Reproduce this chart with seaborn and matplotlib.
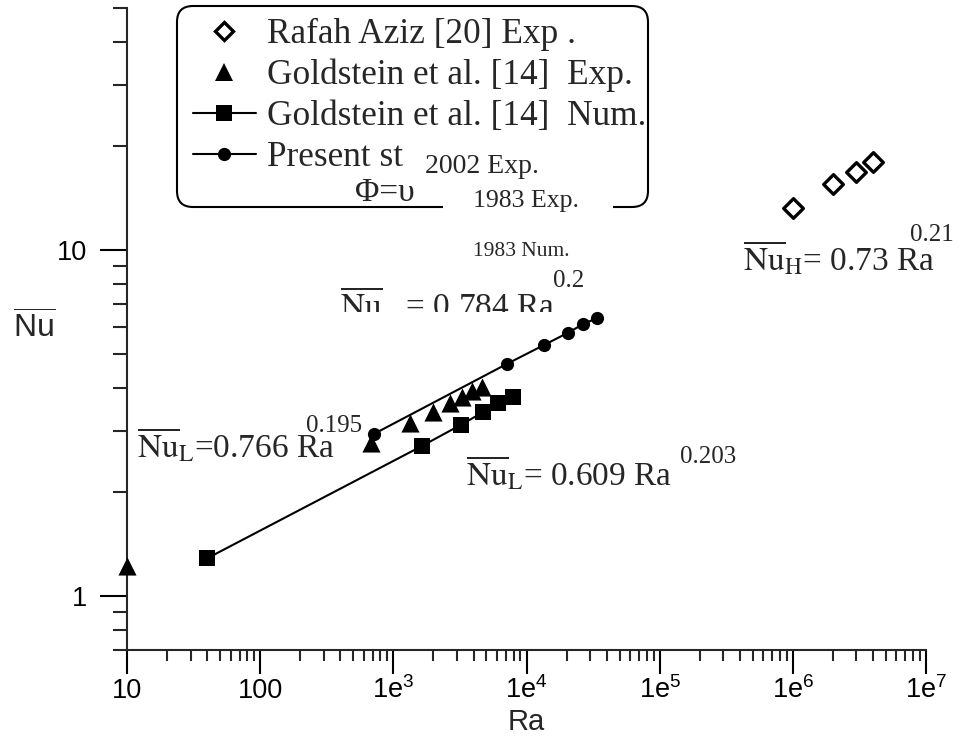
import numpy as np
import matplotlib
matplotlib.use("Agg")
import matplotlib.pyplot as plt
import seaborn as sns
from matplotlib.lines import Line2D
from matplotlib.patches import FancyBboxPatch, Rectangle
from matplotlib.transforms import IdentityTransform, Bbox
from matplotlib.ticker import LogLocator, NullFormatter

# ---------------- data ----------------
aziz_ra = [1.0e6, 2.0e6, 3.0e6, 4.0e6]
aziz_nu = [13.2, 15.5, 16.8, 17.9]

gold_exp_ra = [10, 675, 1330, 1990, 2660, 3260, 3870, 4600]
gold_exp_nu = [1.22, 2.76, 3.16, 3.40, 3.61, 3.77, 3.90, 4.03]

gold_num_ra = [40, 1630, 3200, 4730, 6130, 7940]
gold_num_nu = [1.285, 2.71, 3.12, 3.40, 3.61, 3.77]

present_ra = [715, 7090, 13500, 20600, 26700, 33600]
present_nu = [2.94, 4.68, 5.31, 5.77, 6.11, 6.35]

legend_labels = ["Rafah Aziz [20] Exp .",
                 "Goldstein et al. [14]  Exp.",
                 "Goldstein et al. [14]  Num.",
                 "Present study"]

xtick_values = [10, 100, 1e3, 1e4, 1e5, 1e6, 1e7]
xtick_labels = ["10", "100", "1e$^{3}$", "1e$^{4}$", "1e$^{5}$", "1e$^{6}$", "1e$^{7}$"]
ytick_values = [1, 10]
ytick_labels = ["1", "10"]

# ---------------- style ----------------
sns.set_style("ticks")
plt.rcParams["font.family"] = ["Liberation Sans", "DejaVu Sans"]
plt.rcParams["mathtext.fontset"] = "custom"
plt.rcParams["mathtext.rm"] = "Liberation Sans"
plt.rcParams["mathtext.it"] = "Liberation Sans:italic"
plt.rcParams["mathtext.bf"] = "Liberation Sans:bold"
plt.rcParams["axes.linewidth"] = 1.5

W, H = 964, 740
fig = plt.figure(figsize=(W / 100, H / 100), dpi=100)
ax_left, ax_right, ax_top, ax_bottom = 127, 926, 8.1, 649.6
ax = fig.add_axes([ax_left / W, 1 - ax_bottom / H,
                   (ax_right - ax_left) / W, (ax_bottom - ax_top) / H])
ax.set_xscale("log")
ax.set_yscale("log")


def fx(x):
    return x / W


def fy(y):
    return 1 - y / H


# ---------------- marks ----------------
sns.lineplot(x=gold_num_ra, y=gold_num_nu, ax=ax, color="black", linewidth=1.5,
             marker="s", markersize=11.5, markeredgecolor="black",
             markeredgewidth=0, sort=False, estimator=None, legend=False)
sns.lineplot(x=present_ra, y=present_nu, ax=ax, color="black", linewidth=1.5,
             marker="o", markersize=9.5, markeredgecolor="black",
             markeredgewidth=0, sort=False, estimator=None, legend=False)
sns.scatterplot(x=gold_exp_ra, y=gold_exp_nu, ax=ax, marker="^", s=170,
                color="black", edgecolor="black", linewidth=0, clip_on=False,
                zorder=5, legend=False)
sns.scatterplot(x=aziz_ra, y=aziz_nu, ax=ax, marker="D", s=100,
                color="white", edgecolor="black", linewidth=2.4,
                zorder=5, legend=False)

# ---------------- axes ----------------
ax.set_xlim(10, 1e7)
ax.set_ylim(0.7, 50)
sns.despine(ax=ax)

ax.set_xticks(xtick_values, xtick_labels)
ax.set_yticks(ytick_values, ytick_labels)
ax.xaxis.set_minor_locator(LogLocator(base=10, subs=np.arange(2, 10), numticks=100))
ax.yaxis.set_minor_locator(LogLocator(base=10, subs=np.arange(2, 10), numticks=100))
ax.xaxis.set_minor_formatter(NullFormatter())
ax.yaxis.set_minor_formatter(NullFormatter())

ax.tick_params(axis="x", which="major", length=17.5, width=1.5, direction="out",
               labelsize=19.5, pad=17, colors="black")
ax.tick_params(axis="x", which="minor", length=8, width=1.5, direction="out")
ax.tick_params(axis="y", which="major", length=19.5, width=1.5, direction="out",
               labelsize=19.5, pad=9, colors="black")
ax.tick_params(axis="y", which="minor", length=10, width=1.5, direction="out")
for t in ax.get_xticklabels():
    t.set_verticalalignment("baseline")

ax.set_xlabel("Ra", fontsize=21)
ax.xaxis.set_label_coords((526 - ax_left) / (ax_right - ax_left),
                          (ax_bottom - 722) / (ax_bottom - ax_top))
ax.xaxis.label.set_verticalalignment("center")
ax.set_ylabel(r"$\overline{\mathrm{Nu}}$", fontsize=23, rotation=0)
ax.yaxis.set_label_coords((34 - ax_left) / (ax_right - ax_left),
                          (ax_bottom - 328) / (ax_bottom - ax_top))
ax.yaxis.label.set_verticalalignment("center")
ax.yaxis.label.set_horizontalalignment("center")

# ---------------- legend ----------------
handles = [
    Line2D([], [], linestyle="none", marker="D", markersize=9.5,
           markerfacecolor="white", markeredgecolor="black", markeredgewidth=2.4),
    Line2D([], [], linestyle="none", marker="^", markersize=13,
           markerfacecolor="black", markeredgecolor="black", markeredgewidth=0),
    Line2D([], [], color="black", linewidth=1.5, marker="s", markersize=11,
           markerfacecolor="black", markeredgewidth=0),
    Line2D([], [], color="black", linewidth=1.5, marker="o", markersize=9.5,
           markerfacecolor="black", markeredgewidth=0),
]
leg = ax.legend(handles, legend_labels, loc="upper left",
                bbox_to_anchor=(fx(193), fy(18)), bbox_transform=fig.transFigure,
                frameon=False, borderpad=0, borderaxespad=0,
                handlelength=1.78, handletextpad=0.33, labelspacing=0.22,
                prop={"family": "Liberation Serif", "size": 25.4})
leg.set_zorder(6)

frame = FancyBboxPatch((177, H - 207), 648 - 177, 207 - 6,
                       boxstyle="round,pad=0,rounding_size=16",
                       transform=IdentityTransform(), facecolor="none",
                       edgecolor="black", linewidth=1.5, zorder=2)
fig.add_artist(frame)

fig.text(fx(355), fy(201), "Φ=υ", fontsize=24, family="Liberation Serif",
         ha="left", va="baseline", zorder=3)

# ---------------- overlay labels with white boxes ----------------
for (x0, y0, x1, y1) in [(403, 136, 565, 186), (443, 182, 613, 218)]:
    fig.add_artist(Rectangle((x0, H - y1), x1 - x0, y1 - y0,
                             transform=IdentityTransform(), facecolor="white",
                             edgecolor="none", zorder=8))
overlay = [(425, 173, "2002 Exp.", 20), (473, 207, "1983 Exp.", 18.5),
           (473, 256, "1983 Num.", 15.5)]
for (x, y, s, size) in overlay:
    fig.text(fx(x), fy(y), s, fontsize=size, family="Liberation Serif",
             ha="left", va="baseline", zorder=9)

# ---------------- correlation labels ----------------
eq_kw = dict(fontsize=24, family="Liberation Serif", math_fontfamily="stix",
             ha="left", va="baseline", zorder=4)
sup_kw = dict(fontsize=18, family="Liberation Serif", ha="left",
              va="baseline", zorder=4)

fig.text(fx(137), fy(458), r"$\overline{\mathrm{Nu}}_{\mathrm{L}}$=0.766 Ra", **eq_kw)
fig.text(fx(306), fy(432), "0.195", **sup_kw)

fig.text(fx(466), fy(486), r"$\overline{\mathrm{Nu}}_{\mathrm{L}}$= 0.609 Ra", **eq_kw)
fig.text(fx(680), fy(463), "0.203", **sup_kw)

t3 = fig.text(fx(340), fy(317), r"$\overline{\mathrm{Nu}}$   = 0 784 Ra", **eq_kw)
t3.set_clip_box(Bbox([[0, H - 312], [W, H]]))
t3.set_clip_on(True)
fig.text(fx(553), fy(287), "0.2", **sup_kw)

fig.text(fx(743), fy(270), r"$\overline{\mathrm{Nu}}_{\mathrm{H}}$= 0.73 Ra", **eq_kw)
fig.text(fx(910), fy(241), "0.21", **sup_kw)

fig.savefig("out.png", dpi=100)
